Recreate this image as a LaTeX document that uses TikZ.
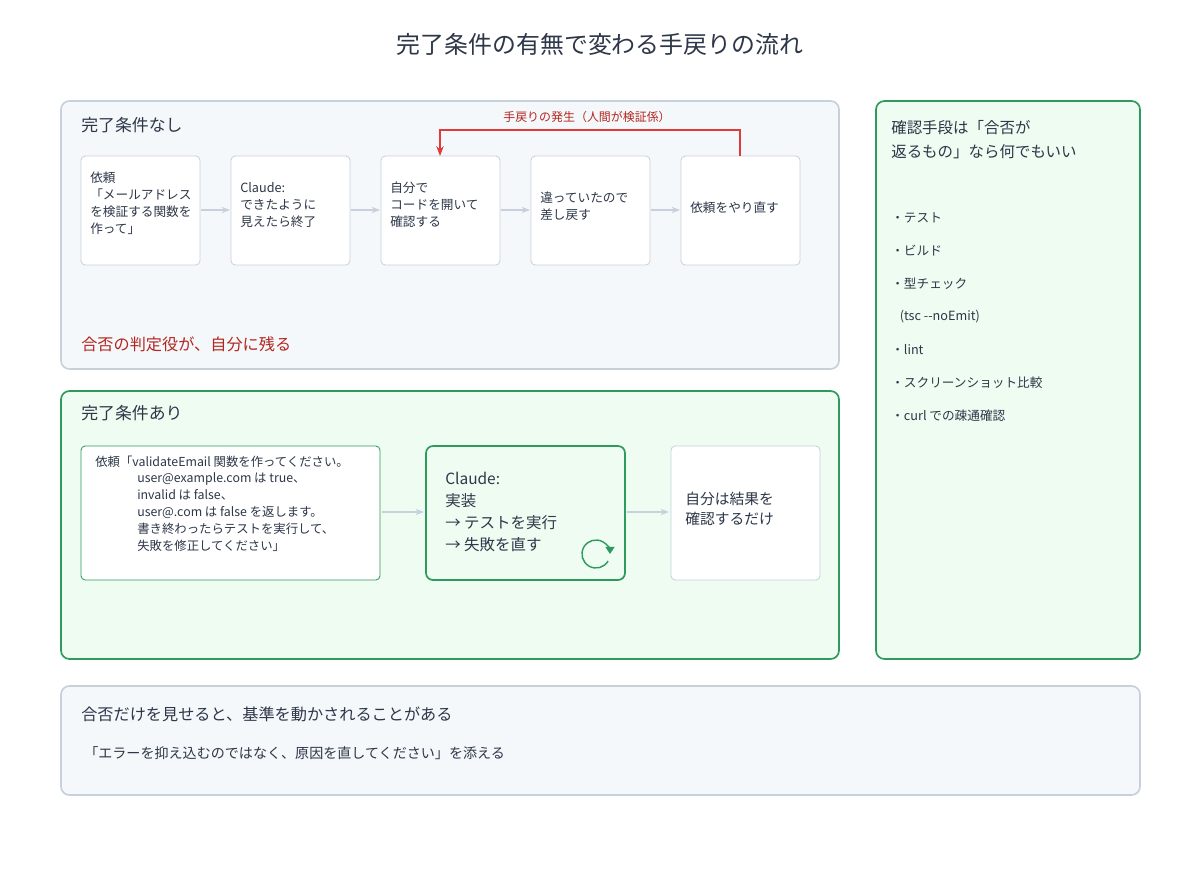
\documentclass[tikz,border=0pt]{standalone}
\usepackage{fontspec}
\setmainfont{Noto Sans CJK JP}
\usetikzlibrary{arrows.meta, positioning}
\definecolor{ink}{HTML}{2D3748}
\definecolor{greyline}{HTML}{C8D0DC}
\definecolor{greyfill}{HTML}{F5F8FB}
\definecolor{greenline}{HTML}{2E9A5E}
\definecolor{greenfill}{HTML}{EEFCF2}
\definecolor{redline}{HTML}{E03A3A}
\definecolor{redtext}{HTML}{B3261E}
\tikzset{
  panel/.style={draw=greyline, fill=greyfill, line width=1.2pt, rounded corners=6pt},
  gpanel/.style={draw=greenline, fill=greenfill, line width=1.2pt, rounded corners=6pt},
  stepbox/.style={draw=greyline, fill=white, rounded corners=3pt, line width=0.6pt},
  txt/.style={text=ink, font=\fontsize{9}{12}\selectfont, align=left, anchor=west, inner sep=0pt},
  flow/.style={draw=greyline, line width=1.2pt, -{Stealth[length=6pt]}}
}
\begin{document}
\begin{tikzpicture}[x=0.025cm, y=-0.025cm]
	\useasboundingbox (0,0) rectangle (1200,880);
	%Title
		\node[text=ink, font=\fontsize{17}{20}\selectfont] (title) at (600,44) {完了条件の有無で変わる手戻りの流れ};
	%Panels
		\draw[panel] (61,101) rectangle (839,369);
		\draw[gpanel] (876,101) rectangle (1140,659);
		\draw[gpanel] (61,391) rectangle (839,659);
		\draw[panel] (61,686) rectangle (1140,795);
	%Without criteria
		\node[txt, font=\fontsize{12}{14}\selectfont] (nohead) at (81,125) {完了条件なし};
		\draw[stepbox] (81,156) rectangle (200,265);
		\draw[stepbox] (231,156) rectangle (350,265);
		\draw[stepbox] (381,156) rectangle (500,265);
		\draw[stepbox] (531,156) rectangle (650,265);
		\draw[stepbox] (681,156) rectangle (800,265);
		\node[txt] (t1) at (90,203) {依頼\\「メールアドレス\\を検証する関数を\\作って」};
		\node[txt] (t2) at (240,205) {Claude:\\できたように\\見えたら終了};
		\node[txt] (t3) at (390,205) {自分で\\コードを開いて\\確認する};
		\node[txt] (t4) at (540,206) {違っていたので\\差し戻す};
		\node[txt] (t5) at (690,208) {依頼をやり直す};
		\draw[flow] (201,210) -- (230,210);
		\draw[flow] (351,210) -- (380,210);
		\draw[flow] (501,210) -- (530,210);
		\draw[flow] (651,210) -- (680,210);
	%Rework loop
		\coordinate (r1) at (740,156);
		\coordinate (r2) at (440,156);
		\draw[redline, line width=1.5pt, -{Stealth[length=7pt]}] (r1) |- (590,130) -| (r2);
		\node[text=redtext, font=\fontsize{8.5}{10}\selectfont] (rlabel) at (587,117) {手戻りの発生（人間が検証係）};
		\node[txt, text=redtext, font=\fontsize{11.5}{14}\selectfont] (judge) at (81,344) {合否の判定役が、自分に残る};
	%With criteria
		\node[txt, font=\fontsize{12}{14}\selectfont] (yeshead) at (81,413) {完了条件あり};
		\draw[draw=greenline, fill=white, rounded corners=3pt, line width=0.6pt] (81,446) rectangle (380,580);
		\draw[draw=greenline, fill=greenfill, rounded corners=5pt, line width=1.2pt] (426,446) rectangle (625,580);
		\draw[stepbox] (671,446) rectangle (820,580);
		\node[txt, anchor=north west, font=\fontsize{8.8}{12.2}\selectfont] (req) at (95,456) {依頼「validateEmail 関数を作ってください。};
		\node[txt, anchor=north west, font=\fontsize{8.8}{12.2}\selectfont] (req2) at (137,472)
			{user@example.com は true、\\invalid は false、\\user@.com は false を返します。\\書き終わったらテストを実行して、\\失敗を修正してください」};
		\node[txt, font=\fontsize{11}{15.5}\selectfont] (claude) at (445,512) {Claude:\\実装\\→ テストを実行\\→ 失敗を直す};
		\node[txt, font=\fontsize{10.5}{14}\selectfont] (self) at (685,509) {自分は結果を\\確認するだけ};
		\draw[flow] (382,512) -- (424,512);
		\draw[flow] (627,512) -- (669,512);
		\draw[greenline, line width=1pt, -{Triangle[length=5pt]}] (608.1,561) arc[start angle=30, end angle=360, radius=14];
	%Verification means
		\node[txt, font=\fontsize{11}{17}\selectfont] (mhead) at (891,140) {確認手段は「合否が\\返るもの」なら何でもいい};
		\foreach \y/\t in {218/・テスト, 251/・ビルド, 284/・型チェック, 317/\ \ \ (tsc {-}{-}noEmit), 350/・lint, 383/・スクリーンショット比較, 416/・curl での疎通確認}
			\node[txt] at (891,\y) {\t};
	%Note
		\node[txt, font=\fontsize{11.5}{14}\selectfont] (note) at (81,714) {合否だけを見せると、基準を動かされることがある};
		\node[txt, font=\fontsize{10}{12}\selectfont] (tip) at (84,753) {「エラーを抑え込むのではなく、原因を直してください」を添える};
\end{tikzpicture}
\end{document}
